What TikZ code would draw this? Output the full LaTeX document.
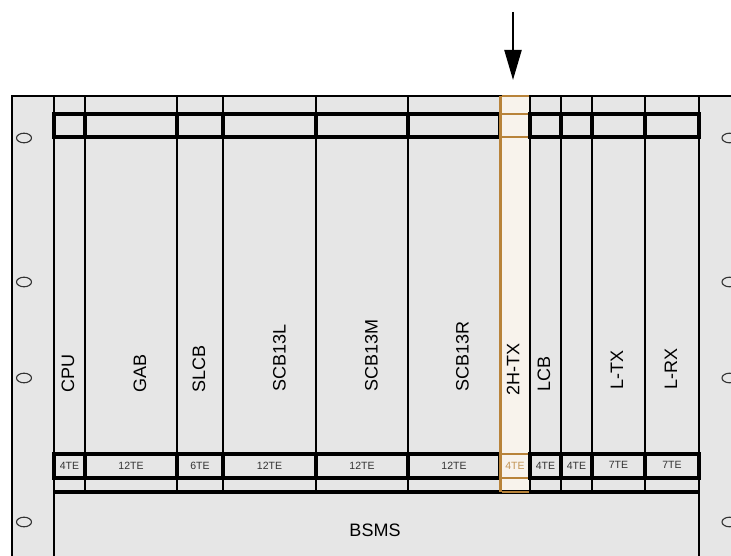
\documentclass[tikz,border=0pt]{standalone}
\usepackage{fontspec}
\setmainfont{Liberation Sans}
\usetikzlibrary{arrows.meta}
\definecolor{rackgray}{HTML}{E6E6E6}
\definecolor{hlfill}{HTML}{F8F3EC}
\definecolor{hlorange}{HTML}{B8833A}
\definecolor{tegray}{HTML}{333333}
\tikzset{
  frameline/.style={line width=2.3pt, black},
  colline/.style={line width=2.3pt, black},
  bandline/.style={line width=3.1pt, black},
  hlline/.style={line width=2.6pt, hlorange},
  hole/.style={line width=1.1pt, tegray},
  boardlabel/.style={rotate=90, anchor=west, inner sep=0pt, font=\fontsize{18}{20}\selectfont},
  telabel/.style={inner sep=0pt, text=tegray, font=\fontsize{10.5}{12}\selectfont},
  pointer/.style={line width=2.2pt, -{Triangle[length=30pt,width=17pt]}},
}
\begin{document}
\begin{tikzpicture}[x=1pt,y=-1pt]
\useasboundingbox (0,0) rectangle (731,556);
% rack body
\fill[rackgray] (12,96) rectangle (740,565);
\fill[hlfill] (500,96) rectangle (530,492);
% outer frame
\draw[frameline] (12,565) -- (12,96) -- (740,96);
% column lines
\foreach \x in {85,177,223,316,408,530,561,592,645}
  \draw[colline] (\x,96) -- (\x,492);
\draw[colline] (54,96) -- (54,565);
\draw[colline] (699,96) -- (699,565);
% bands
\foreach \a/\b in {54/85,85/177,177/223,223/316,316/408,408/500,530/561,561/592,592/645,645/699}{
  \draw[bandline] (\a,114) rectangle (\b,137);
  \draw[bandline] (\a,454) rectangle (\b,478);
}
\draw[bandline] (54,492) -- (699,492);
% highlighted slot
\draw[hlline] (500.5,96) -- (500.5,492);
\foreach \y in {96,114,137,454,478,492}
  \draw[hlline] (501.5,\y) -- (528.5,\y);
\draw[bandline] (530,112.5) -- (530,138.5);
\draw[bandline] (530,452.5) -- (530,479.5);
% mounting holes
\foreach \y in {138,282,378,522}{
  \draw[hole] (24,\y) ellipse [x radius=7.5, y radius=4.8];
  \draw[hole] (729.5,\y) ellipse [x radius=7.5, y radius=4.8];
}
% board labels
\node[boardlabel] (cpu)  at (68,393)  {CPU};
\node[boardlabel] (gab)  at (140,393) {GAB};
\node[boardlabel] (slcb) at (199,393) {SLCB};
\node[boardlabel] (scbl) at (279.5,392) {SCB13L};
\node[boardlabel] (scbm) at (371.5,392) {SCB13M};
\node[boardlabel] (scbr) at (462.5,392) {SCB13R};
\node[boardlabel] (htx)  at (513,396) {2H-TX};
\node[boardlabel] (lcb)  at (544,392) {LCB};
\node[boardlabel] (ltx)  at (617,390) {L-TX};
\node[boardlabel] (lrx)  at (671,390) {L-RX};
\node[font=\fontsize{18}{20}\selectfont, inner sep=0pt] (bsms) at (375,530) {BSMS};
% width labels
\node[telabel] (te1)  at (69.5,466)  {4TE};
\node[telabel] (te2)  at (131,466)   {12TE};
\node[telabel] (te3)  at (200,466)   {6TE};
\node[telabel] (te4)  at (269.5,466) {12TE};
\node[telabel] (te5)  at (362,466)   {12TE};
\node[telabel] (te6)  at (454,466)   {12TE};
\node[telabel, text=hlorange!85] (te7) at (515,466) {4TE};
\node[telabel] (te8)  at (545.5,466) {4TE};
\node[telabel] (te9)  at (576.5,466) {4TE};
\node[telabel] (te10) at (618.5,465) {7TE};
\node[telabel] (te11) at (672,465)   {7TE};
% arrow
\coordinate (arrowtail) at (513,12);
\coordinate (arrowtip) at (513,80);
\draw[pointer] (arrowtail) -- (arrowtip);
\end{tikzpicture}
\end{document}
